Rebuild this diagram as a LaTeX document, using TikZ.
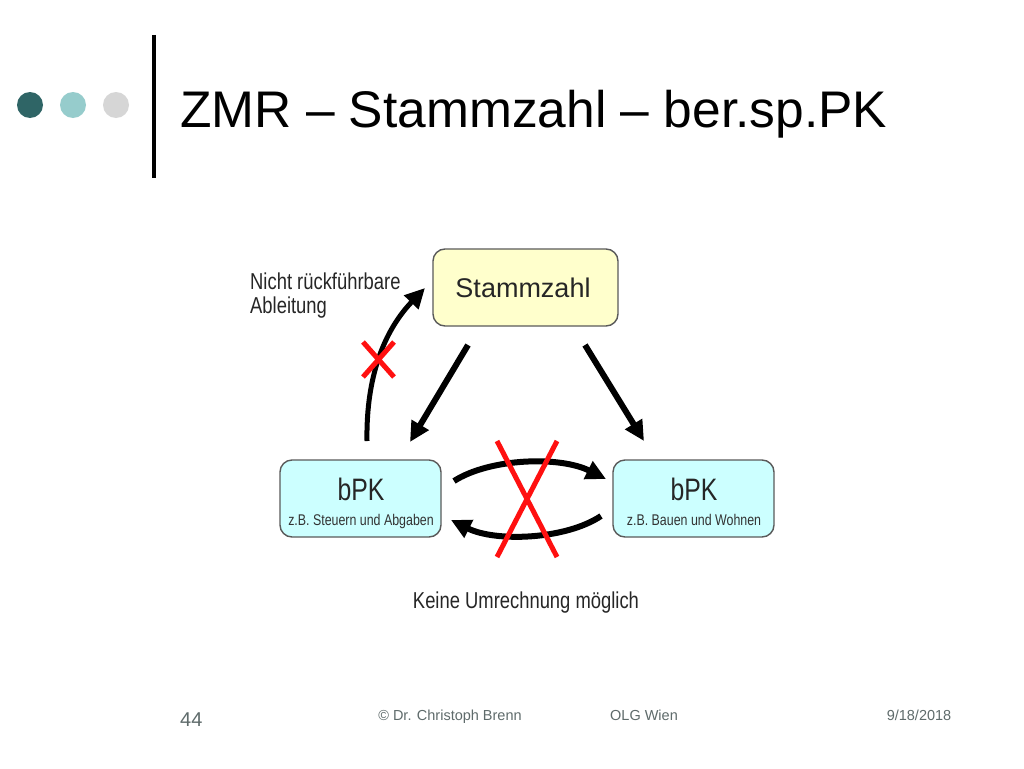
\documentclass[tikz,border=0pt]{standalone}
\usepackage{fontspec}
\setmainfont{Liberation Sans}
\newfontfamily\narrowfont{Liberation Sans}[FakeStretch=0.8]
\usetikzlibrary{arrows.meta}
\definecolor{dotA}{HTML}{2F6566}
\definecolor{dotB}{HTML}{96CCCC}
\definecolor{dotC}{HTML}{D6D6D6}
\definecolor{boxY}{HTML}{FFFFCC}
\definecolor{boxC}{HTML}{CCFFFF}
\definecolor{boxline}{HTML}{5A5A5A}
\definecolor{foot}{HTML}{5F6B6B}
\definecolor{xred}{HTML}{FF1010}
\tikzset{
  dotstyle/.style={circle,minimum size=26pt,inner sep=0pt},
  boxstyle/.style={draw=boxline,line width=1.4pt,rounded corners=12pt,minimum height=77pt,inner sep=0pt},
  bigarrow/.style={line width=6pt,-{Triangle[length=20pt,width=19pt]}},
  cross/.style={draw=xred,line width=5pt},
  foottext/.style={text=foot,inner sep=0pt,font=\fontsize{14.5}{16}\selectfont},
  lbl/.style={inner sep=0pt,font=\narrowfont\fontsize{23}{28}\selectfont,text=black!85}
}
\begin{document}
\begin{tikzpicture}[x=1pt,y=-1pt]
\useasboundingbox[fill=white] (0,0) rectangle (1024,768);
% header
\node[dotstyle,fill=dotA] (d1) at (30,105) {};
\node[dotstyle,fill=dotB] (d2) at (73,105) {};
\node[dotstyle,fill=dotC] (d3) at (116,105) {};
\coordinate (vtop) at (153.5,35);
\coordinate (vbot) at (153.5,178);
\draw[line width=4pt] (vtop) -- (vbot);
\node[anchor=base west,inner sep=0pt,font=\fontsize{51.5}{60}\selectfont] (title) at (180,127) {ZMR – Stammzahl – ber.sp.PK};
% boxes
\node[boxstyle,fill=boxY,minimum width=185pt] (stamm) at (525.5,287.5) {};
\node[inner sep=0pt,font=\fontsize{27}{30}\selectfont,text=black!85,anchor=base] (stammt) at (523,297) {Stammzahl};
\node[boxstyle,fill=boxC,minimum width=161pt] (bl) at (360.5,498.5) {};
\node[boxstyle,fill=boxC,minimum width=161pt] (br) at (693.5,498.5) {};
\node[anchor=base,inner sep=0pt,font=\narrowfont\fontsize{31}{34}\selectfont,text=black!85] (blt) at (361,500) {bPK};
\node[anchor=base,inner sep=0pt,font=\narrowfont\fontsize{15.5}{18}\selectfont,text=black!80] (bls) at (361,525) {z.B. Steuern und Abgaben};
\node[anchor=base,inner sep=0pt,font=\narrowfont\fontsize{31}{34}\selectfont,text=black!85] (brt) at (694,500) {bPK};
\node[anchor=base,inner sep=0pt,font=\narrowfont\fontsize{15.5}{18}\selectfont,text=black!80] (brs) at (694,525) {z.B. Bauen und Wohnen};
% labels
\node[lbl,anchor=north west,align=left] (nicht) at (250,273) {Nicht rückführbare\\[-4pt]Ableitung};
\node[lbl,anchor=base] (keine) at (526,608) {Keine Umrechnung möglich};
% arrows
\coordinate (a1s) at (468,345);
\coordinate (a1e) at (410,442);
\coordinate (a2s) at (585,345);
\coordinate (a2e) at (644,441);
\draw[bigarrow] (a1s) -- (a1e);
\draw[bigarrow] (a2s) -- (a2e);
\coordinate (c1s) at (367,441);
\coordinate (c1e) at (425,288);
\draw[bigarrow,line width=5pt] (c1s) .. controls (366,385) and (380,335) .. (c1e);
\coordinate (t1s) at (454,481);
\coordinate (t1e) at (606,479);
\draw[bigarrow] (t1s) .. controls (490,458) and (560,456) .. (t1e);
\coordinate (t2s) at (601,516);
\coordinate (t2e) at (451,520);
\draw[bigarrow] (t2s) .. controls (565,540) and (495,542) .. (t2e);
% crosses
\coordinate (x1a) at (363,342);
\coordinate (x1b) at (394,377);
\coordinate (x1c) at (394,342);
\coordinate (x1d) at (363,377);
\draw[cross] (x1a) -- (x1b);
\draw[cross] (x1c) -- (x1d);
\coordinate (x2a) at (497,441);
\coordinate (x2b) at (557,557);
\coordinate (x2c) at (557,441);
\coordinate (x2d) at (497,557);
\draw[cross] (x2a) -- (x2b);
\draw[cross] (x2c) -- (x2d);
% footer
\node[foottext,anchor=base west,font=\fontsize{20}{22}\selectfont] (pg) at (180,726) {44};
\node[foottext,anchor=base] (auth) at (450,720) {© Dr. Christoph Brenn};
\node[foottext,anchor=base] (olg) at (644,720) {OLG Wien};
\node[foottext,anchor=base] (date) at (919,720) {9/18/2018};
\end{tikzpicture}
\end{document}
